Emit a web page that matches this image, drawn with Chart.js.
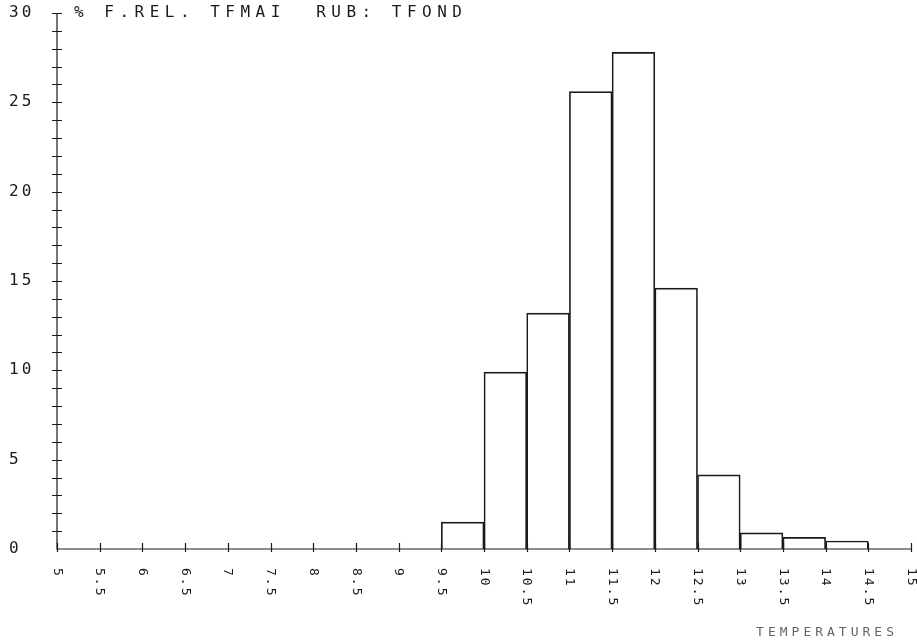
<!DOCTYPE html>
<html>
<head>
<meta charset="utf-8">
<script src="https://cdn.jsdelivr.net/npm/chart.js@4.4.1/dist/chart.umd.min.js"></script>
<style>
html,body{margin:0;padding:0;background:#fff;}
#wrap{width:917px;height:644px;position:relative;}
</style>
</head>
<body>
<div id="wrap"><canvas id="Chart1" width="917" height="644"></canvas></div>
<script>
// histogram bins (lower edge, width 0.5) and relative frequency in %
var binStarts = [5,5.5,6,6.5,7,7.5,8,8.5,9,9.5,10,10.5,11,11.5,12,12.5,13,13.5,14,14.5];
var freqPct = [0,0,0,0,0,0,0,0,0,1.5,9.9,13.2,25.6,27.8,14.6,4.15,0.9,0.65,0.45,0];
var xTickValues = [5,5.5,6,6.5,7,7.5,8,8.5,9,9.5,10,10.5,11,11.5,12,12.5,13,13.5,14,14.5,15];
var xTickLabels = ['5','5.5','6','6.5','7','7.5','8','8.5','9','9.5','10','10.5','11','11.5','12','12.5','13','13.5','14','14.5','15'];
var yTickLabels = ['0','5','10','15','20','25','30'];
var chartTitle = '% F.REL. TFMAI  RUB: TFOND';
var xTitle = 'TEMPERATURES';

var penFont = '"DejaVu Sans Mono", monospace';
var ink = '#1a1a1a';

var plotterAxes = {
    id: 'plotterAxes',
    afterDraw: function (chart) {
        var ctx = chart.ctx;
        var xs = chart.scales.x, ys = chart.scales.y;
        var x0 = xs.getPixelForValue(5), x1 = xs.getPixelForValue(15);
        var yb = ys.getPixelForValue(0), yt = ys.getPixelForValue(30);
        ctx.save();
        ctx.strokeStyle = ink;
        ctx.lineWidth = 1.2;
        // axes
        ctx.beginPath();
        ctx.moveTo(x0, yt); ctx.lineTo(x0, yb); ctx.lineTo(x1, yb);
        ctx.stroke();
        // y ticks every unit, crossing the axis
        ctx.beginPath();
        for (var v = 1; v <= 30; v++) {
            var py = Math.round(ys.getPixelForValue(v)) + 0.5;
            ctx.moveTo(x0 - 5, py); ctx.lineTo(x0 + 5, py);
        }
        // x ticks
        for (var i = 0; i < xTickValues.length; i++) {
            var px = Math.round(xs.getPixelForValue(xTickValues[i])) + 0.5;
            ctx.moveTo(px, yb - 6); ctx.lineTo(px, yb + 3);
        }
        ctx.stroke();
        ctx.fillStyle = ink;
        // y labels
        ctx.font = '16px ' + penFont;
        ctx.textAlign = 'left';
        ctx.textBaseline = 'middle';
        ctx.letterSpacing = '3px';
        for (var j = 0; j < yTickLabels.length; j++) {
            ctx.fillText(yTickLabels[j], 9, ys.getPixelForValue(Number(yTickLabels[j])));
        }
        // title
        ctx.letterSpacing = '5.5px';
        ctx.fillText(chartTitle, 74, yt);
        // x labels, rotated like the plotter output
        ctx.font = '13px ' + penFont;
        ctx.letterSpacing = '2px';
        for (var k = 0; k < xTickLabels.length; k++) {
            var lx = xs.getPixelForValue(xTickValues[k]);
            ctx.save();
            ctx.translate(lx, yb + 19);
            ctx.rotate(Math.PI / 2);
            ctx.textAlign = 'left';
            ctx.textBaseline = 'middle';
            ctx.fillText(xTickLabels[k], 0, 0);
            ctx.restore();
        }
        // x title
        ctx.fillStyle = '#666';
        ctx.font = '13px ' + penFont;
        ctx.letterSpacing = '4px';
        ctx.textAlign = 'right';
        ctx.fillText(xTitle, 898, 633);
        ctx.restore();
    }
};

window.onload = function () {
    var pts = [];
    for (var i = 0; i < binStarts.length; i++) {
        pts.push({x: binStarts[i] + 0.25, y: freqPct[i]});
    }
    var ctx = document.getElementById('Chart1').getContext('2d');
    new Chart(ctx, {
        type: 'bar',
        data: {datasets: [{
            label: chartTitle,
            data: pts,
            backgroundColor: 'rgba(0,0,0,0)',
            borderColor: ink,
            borderWidth: 1,
            borderSkipped: 'start',
            barPercentage: 1,
            categoryPercentage: 1
        }]},
        options: {
            responsive: false,
            animation: false,
            devicePixelRatio: 1,
            layout: {padding: {left: 0, top: 13, right: 6, bottom: 0}},
            plugins: {legend: {display: false}, tooltip: {enabled: false}},
            scales: {
                x: {
                    type: 'linear', min: 5, max: 15, offset: false,
                    grid: {display: false}, border: {display: false},
                    ticks: {display: false, stepSize: 0.5},
                    afterFit: function (s) { s.height = 95; }
                },
                y: {
                    min: 0, max: 30,
                    grid: {display: false}, border: {display: false},
                    ticks: {display: false, stepSize: 5},
                    afterFit: function (s) { s.width = 57; }
                }
            }
        },
        plugins: [plotterAxes]
    });
};
</script>
</body>
</html>
